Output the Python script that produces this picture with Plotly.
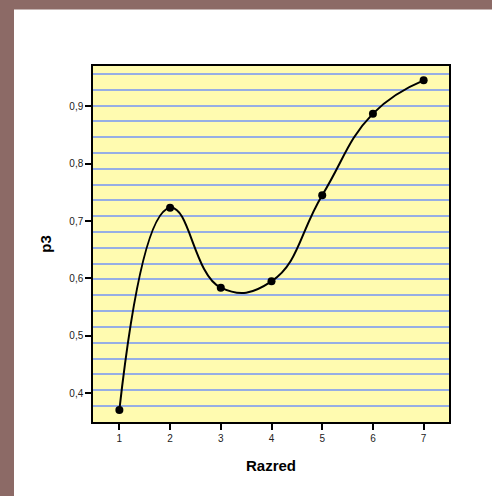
import plotly.graph_objects as go

razred = [1, 2, 3, 4, 5, 6, 7]
p3 = [0.371, 0.723, 0.584, 0.595, 0.745, 0.887, 0.945]
x_ticks = [1, 2, 3, 4, 5, 6, 7]
y_ticks = [0.4, 0.5, 0.6, 0.7, 0.8, 0.9]
y_tick_labels = ["0,4", "0,5", "0,6", "0,7", "0,8", "0,9"]

fig = go.Figure()
fig.add_trace(go.Scatter(
    x=razred, y=p3, mode="lines+markers",
    line=dict(color="black", width=2, shape="spline", smoothing=1.3),
    marker=dict(color="black", size=8),
    showlegend=False, hoverinfo="skip",
))
# invisible trace to activate secondary axis used for paper-like ruling
fig.add_trace(go.Scatter(x=[1], y=[0.5], yaxis="y2", mode="markers",
                         marker=dict(opacity=0), showlegend=False, hoverinfo="skip"))

yrange = [0.35, 0.97]
fig.update_layout(
    width=492, height=496,
    margin=dict(l=93, r=43, t=66, b=74),
    paper_bgcolor="white",
    plot_bgcolor="#FFFBB0",
    font=dict(family="Arial, Liberation Sans, sans-serif", color="black"),
    xaxis=dict(
        range=[0.48, 7.5], tickvals=x_ticks, ticks="outside", ticklen=6, tickwidth=2,
        tickcolor="black", showgrid=False, zeroline=False,
        showline=True, linecolor="black", linewidth=1.5, mirror=True,
        tickfont=dict(size=10, color="#222"),
        title=dict(text="<b>Razred</b>", font=dict(size=15), standoff=18),
    ),
    yaxis=dict(
        range=yrange, tickvals=y_ticks, ticktext=y_tick_labels, ticks="outside", ticklen=6,
        tickwidth=2, tickcolor="black", showgrid=False, zeroline=False,
        showline=True, linecolor="black", linewidth=1.5, mirror=True,
        tickfont=dict(size=10, color="#222"),
        title=dict(text="<b>p3</b>", font=dict(size=15), standoff=14),
    ),
    yaxis2=dict(
        overlaying="y", range=yrange, tick0=0.3779, dtick=0.02754,
        showgrid=True, gridcolor="#97AEE4", gridwidth=1.5, showticklabels=False,
        ticks="", zeroline=False, showline=False, side="right",
    ),
    shapes=[
        dict(type="rect", xref="paper", yref="paper", x0=-0.27, x1=1.2, y0=1.159, y1=1.2,
             fillcolor="#8C6A66", line=dict(width=0), layer="below"),
        dict(type="rect", xref="paper", yref="paper", x0=-0.27, x1=-0.2219, y0=-0.25, y1=1.2,
             fillcolor="#8C6A66", line=dict(width=0), layer="below"),
    ],
)
fig.write_html("out.html", config={"displayModeBar": False},
               post_script="document.body.style.margin='0';document.body.style.overflow='hidden';")
